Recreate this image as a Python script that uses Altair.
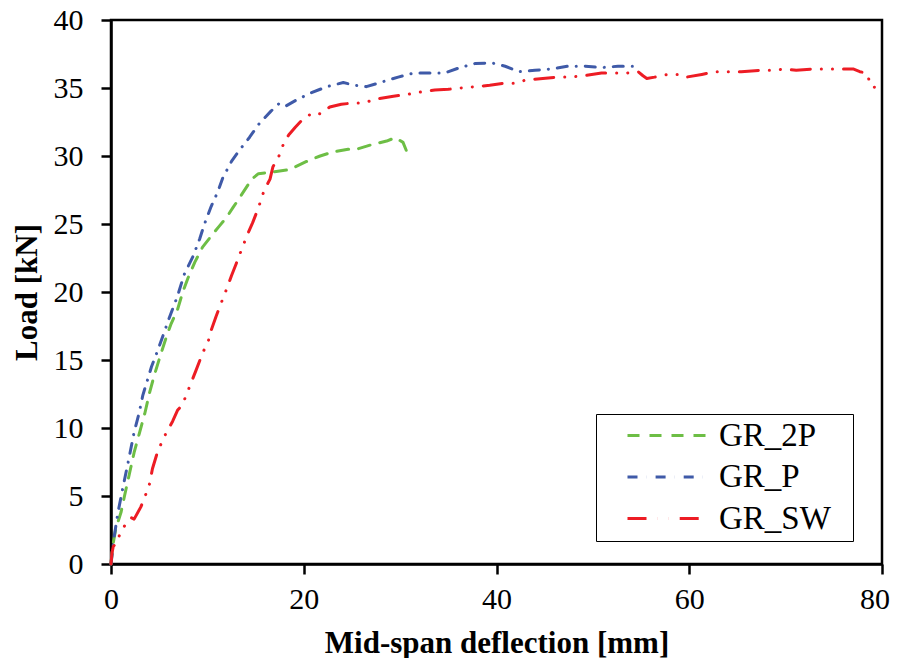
import altair as alt
import pandas as pd

series_names = ["GR_2P", "GR_P", "GR_SW"]

gr2p_x = [0, 0.17, 0.5, 1.04, 1.4, 1.9, 2.4, 2.9, 3.5, 4.0, 4.5, 5.2, 5.7, 6.2, 6.9, 7.45, 8.0, 8.7, 9.5,
          10.6, 11.3, 12.0, 12.65, 13.5, 14.6, 15.3, 16.5, 17.5, 18.5, 19.1, 20.3, 21.7, 23.05, 24.6, 25.5,
          26.9, 28.6, 29.5, 30.3, 30.7]
gr2p_y = [0, 1.3, 2.6, 3.8, 5.0, 6.6, 8.2, 9.5, 11.05, 12.6, 13.9, 15.5, 16.6, 17.6, 18.7, 20.0, 21.05, 22.2,
          23.3, 24.3, 24.9, 25.5, 26.2, 27.1, 28.3, 28.7, 28.8, 28.9, 29.0, 29.2, 29.6, 30.0, 30.3, 30.5, 30.5,
          30.8, 31.1, 31.35, 31.0, 30.3]

grp_x = [0, 0.35, 0.7, 1.2, 1.9, 2.4, 2.9, 3.3, 4.2, 4.9, 5.4, 6.1, 6.9, 7.6, 8.5, 9.2, 9.7, 10.4, 11.1, 11.6,
         12.5, 13.3, 14.4, 15.4, 16.6, 17.5, 18.2, 19.2, 20.6, 22.4, 24.1, 25.3, 26.5, 28.4, 29.8, 31.4, 33.1,
         34.6, 36.2, 37.8, 39.5, 40.9, 42.3, 44.0, 45.7, 47.4, 49.2, 50.9, 52.6, 54.4]
grp_y = [0, 2.1, 3.7, 5.5, 7.9, 9.7, 11.05, 12.4, 14.5, 15.8, 16.8, 18.2, 19.7, 21.3, 22.6, 23.9, 25.0, 26.3,
         27.4, 28.4, 29.6, 30.4, 31.4, 32.4, 33.3, 33.9, 33.7, 34.1, 34.6, 35.1, 35.4, 35.2, 35.1, 35.5, 35.8,
         36.1, 36.1, 36.1, 36.5, 36.8, 36.85, 36.6, 36.2, 36.3, 36.4, 36.6, 36.6, 36.5, 36.6, 36.6]

grsw_x = [0, 0.1, 0.24, 0.45, 0.87, 1.4, 2.1, 2.4, 3.1, 3.6, 4.0, 4.3, 4.85, 5.7, 6.4, 6.9, 7.4, 7.8, 8.3, 8.8,
          9.5, 10.1, 10.4, 10.9, 11.6, 12.1, 12.5, 13.0, 13.7, 14.2, 14.7, 15.3, 15.9, 16.5, 16.8, 17.5, 18.0,
          18.5, 19.1, 19.9, 21.0, 21.7, 22.7, 23.9, 25.1, 26.2, 27.6, 29.3, 30.5, 32.1, 33.6, 35.0, 36.2, 37.9,
          39.3, 40.7, 41.9, 43.1, 44.8, 46.4, 47.6, 49.0, 50.9, 52.3, 53.5, 54.7, 55.2, 55.6, 56.4, 57.8, 59.0,
          59.7, 61.3, 62.8, 64.0, 65.4, 67.3, 68.7, 69.9, 71.1, 72.9, 74.2, 75.6, 77.0, 77.7, 78.4, 78.6, 79.0,
          80.0]
grsw_y = [0, 0.8, 1.3, 1.45, 2.1, 2.8, 3.4, 3.3, 4.2, 5.1, 5.9, 7.0, 8.3, 9.6, 10.5, 11.3, 11.7, 12.4, 13.3,
          14.2, 15.5, 16.4, 17.2, 18.2, 19.5, 20.4, 21.2, 22.1, 23.4, 24.3, 25.1, 26.2, 27.5, 28.3, 29.2, 30.1,
          31.1, 31.6, 32.1, 32.7, 33.2, 33.1, 33.6, 33.8, 33.9, 33.9, 34.2, 34.4, 34.5, 34.7, 34.85, 34.9, 35.0,
          35.1, 35.2, 35.35, 35.35, 35.6, 35.7, 35.8, 35.8, 35.9, 36.1, 36.1, 36.1, 36.2, 35.9, 35.7, 35.8, 36.0,
          36.0, 35.8, 36.0, 36.2, 36.2, 36.2, 36.3, 36.3, 36.4, 36.3, 36.4, 36.4, 36.4, 36.4, 36.2, 36.1, 35.7,
          35.05, 35.1]

series_colors = ["#6DBE45", "#3F5AA8", "#ED1C24"]
series_dashes = [[12, 10], [10, 9, 0.1, 9], [19, 11, 0.1, 11, 0.1, 11]]

x_ticks = [0, 20, 40, 60, 80]
y_ticks = [0, 5, 10, 15, 20, 25, 30, 35, 40]

frames = []
for name, xs, ys in zip(series_names, [gr2p_x, grp_x, grsw_x], [gr2p_y, grp_y, grsw_y]):
    frames.append(pd.DataFrame({"series": name, "x": xs, "y": ys, "i": range(len(xs))}))
df = pd.concat(frames, ignore_index=True)

FONT = "Liberation Serif, Times New Roman, serif"

legend = alt.Legend(
    title=None, orient="none", legendX=485, legendY=394,
    symbolType="M-4,0H4", symbolSize=400, symbolStrokeWidth=3,
    symbolOffset=50, labelOffset=35, padding=5, rowPadding=7.5,
    strokeColor="black", labelFont=FONT, labelFontSize=33, labelColor="black",
    labelExpr="datum.label + '\u00a0\u00a0\u200b'",
)

chart = alt.Chart(df).mark_line(strokeWidth=3, strokeCap="round", strokeJoin="round").encode(
    x=alt.X("x:Q", scale=alt.Scale(domain=[0, 80], nice=False),
            axis=alt.Axis(values=x_ticks, title="Mid-span deflection [mm]", titleY=88,
                          titleBaseline="alphabetic", labelPadding=10, labelFlush=True,
                          labelFlushOffset=7.5)),
    y=alt.Y("y:Q", scale=alt.Scale(domain=[0, 40], nice=False),
            axis=alt.Axis(values=y_ticks, title="Load [kN]", titleX=-75,
                          titleBaseline="alphabetic", labelPadding=18, labelFlush=False)),
    color=alt.Color("series:N", scale=alt.Scale(domain=series_names, range=series_colors), legend=legend),
    strokeDash=alt.StrokeDash("series:N", scale=alt.Scale(domain=series_names, range=series_dashes),
                              legend=legend),
    order="i:Q",
).properties(
    width=771, height=544,
    autosize=alt.AutoSizeParams(type="none"),
    padding={"left": 103, "top": 12, "right": 8, "bottom": 94},
).configure_view(
    stroke="black", strokeWidth=2.5,
).configure_axis(
    grid=False, domainColor="black", domainWidth=2.5, tickColor="black", tickWidth=2.5, tickSize=10,
    labelFont=FONT, labelFontSize=30, labelColor="black",
    titleFont=FONT, titleFontSize=31, titleFontWeight="bold", titleColor="black",
)

chart.save("out.html", embed_options={"renderer": "svg", "actions": False})
